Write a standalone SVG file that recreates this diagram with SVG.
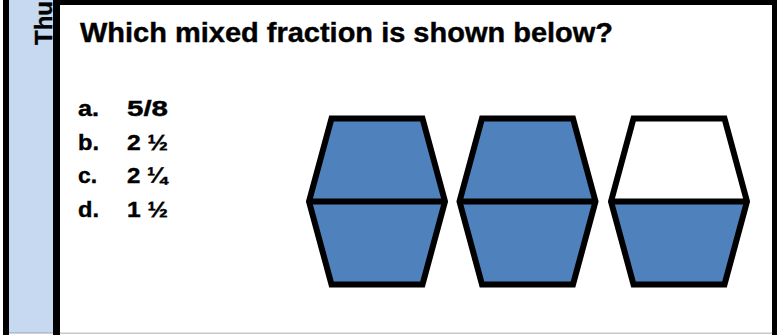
<svg xmlns="http://www.w3.org/2000/svg" width="777" height="335" viewBox="0 0 777 335">
  <style>
    .t { font-family: "Liberation Sans", Arial, sans-serif; font-weight: bold; fill: #000; stroke: #000; stroke-width: 0.4; }
    .opt { font-size: 22px; }
    .hexline { fill: none; stroke: #000; stroke-width: 6; stroke-linejoin: miter; }
    .blue { fill: #4F81BD; }
    .white { fill: #FFFFFF; }
  </style>
  <rect x="0" y="0" width="777" height="335" fill="#FFFFFF"/>
  <g id="side-strip">
    <rect x="3" y="0" width="6" height="335" fill="#000"/>
    <rect x="9" y="0" width="44" height="333" fill="#C6D9F0"/>
    <rect x="9" y="332.5" width="44" height="1" fill="#9AA6B8"/>
    <rect x="53" y="0" width="7" height="335" fill="#000"/>
    <text class="t" font-size="24" transform="translate(52,45) rotate(-90)">Thu</text>
  </g>
  <g id="panel">
    <rect x="60" y="0" width="717" height="5" fill="#000"/>
    <rect x="772" y="0" width="5" height="335" fill="#000"/>
    <rect x="60" y="332.5" width="712" height="1.5" fill="#C8C8C8"/>
  </g>
  <g id="title">
    <text class="t" x="80" y="42" font-size="27" textLength="533" lengthAdjust="spacingAndGlyphs">Which mixed fraction is shown below?</text>
  </g>
  <g id="options">
    <text class="t opt" x="78" y="116" textLength="21" lengthAdjust="spacingAndGlyphs">a.</text>
    <text class="t opt" x="127" y="116" textLength="41" lengthAdjust="spacingAndGlyphs">5/8</text>
    <text class="t opt" x="78" y="149.5" textLength="21" lengthAdjust="spacingAndGlyphs">b.</text>
    <text class="t opt" x="127" y="149.5" textLength="41" lengthAdjust="spacingAndGlyphs">2 ½</text>
    <text class="t opt" x="78" y="183" textLength="19" lengthAdjust="spacingAndGlyphs">c.</text>
    <text class="t opt" x="127" y="183" textLength="40" lengthAdjust="spacingAndGlyphs">2 ¼</text>
    <text class="t opt" x="78" y="216.5" textLength="21" lengthAdjust="spacingAndGlyphs">d.</text>
    <text class="t opt" x="127" y="216.5" textLength="41" lengthAdjust="spacingAndGlyphs">1 ½</text>
  </g>
  <g id="hex1" transform="translate(377,0)">
    <polygon class="blue" points="-45.5,118.5 45.5,118.5 68,201.5 -68,201.5"/>
    <polygon class="blue" points="-68,201.5 68,201.5 45.5,284.5 -45.5,284.5"/>
    <polygon class="hexline" points="-45.5,118.5 45.5,118.5 68,201.5 45.5,284.5 -45.5,284.5 -68,201.5"/>
    <line class="hexline" x1="-68" y1="201.5" x2="68" y2="201.5"/>
  </g>
  <g id="hex2" transform="translate(527.5,0)">
    <polygon class="blue" points="-45.5,118.5 45.5,118.5 68,201.5 -68,201.5"/>
    <polygon class="blue" points="-68,201.5 68,201.5 45.5,284.5 -45.5,284.5"/>
    <polygon class="hexline" points="-45.5,118.5 45.5,118.5 68,201.5 45.5,284.5 -45.5,284.5 -68,201.5"/>
    <line class="hexline" x1="-68" y1="201.5" x2="68" y2="201.5"/>
  </g>
  <g id="hex3" transform="translate(679,0)">
    <polygon class="white" points="-45.5,118.5 45.5,118.5 68,201.5 -68,201.5"/>
    <polygon class="blue" points="-68,201.5 68,201.5 45.5,284.5 -45.5,284.5"/>
    <polygon class="hexline" points="-45.5,118.5 45.5,118.5 68,201.5 45.5,284.5 -45.5,284.5 -68,201.5"/>
    <line class="hexline" x1="-68" y1="201.5" x2="68" y2="201.5"/>
  </g>
</svg>
